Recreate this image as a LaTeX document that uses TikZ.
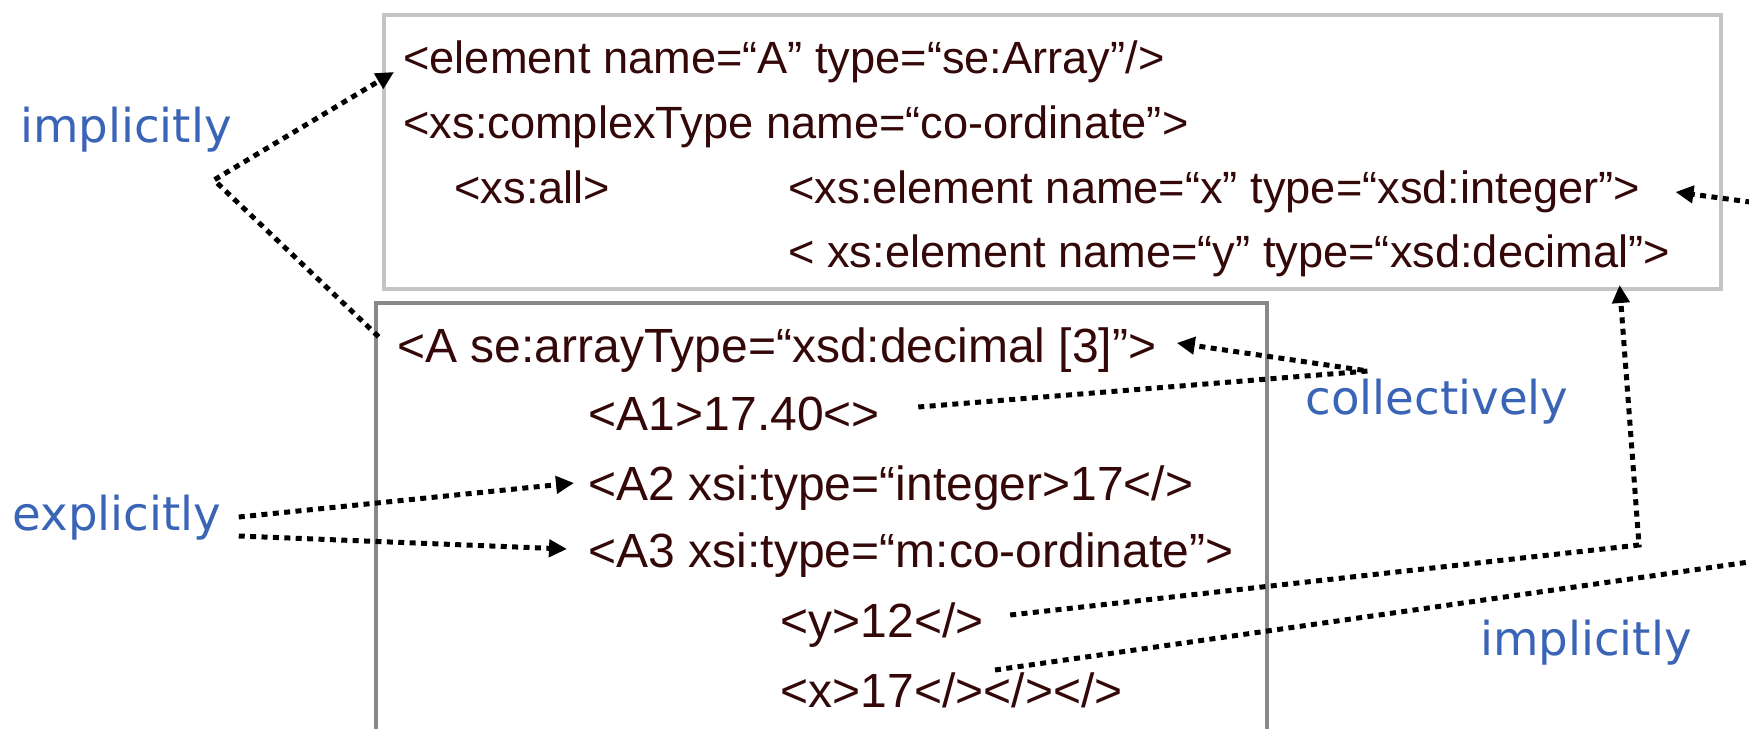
\documentclass[tikz,border=0pt]{standalone}
\usepackage{fontspec}
\setmainfont{Liberation Sans}
\newfontfamily\labelfont{DejaVu Sans}
\usetikzlibrary{arrows.meta,calc}
\definecolor{xmltext}{RGB}{52,8,8}
\definecolor{labelblue}{RGB}{58,100,182}
\definecolor{boxlight}{RGB}{196,196,196}
\definecolor{boxdark}{RGB}{136,136,136}

\begin{document}
\begin{tikzpicture}[x=0.5pt,y=-0.5pt,
  schema/.style={anchor=base west, inner sep=0pt, text=xmltext,
    font=\fontsize{22.6}{27}\selectfont},
  inst/.style={anchor=base west, inner sep=0pt, text=xmltext,
    font=\fontsize{24}{28}\selectfont},
  lbl/.style={inner sep=0pt, text=labelblue,
    font=\labelfont\fontsize{23.35}{28}\selectfont},
  link/.style={line width=2.5pt, black, dash pattern=on 3pt off 2.7pt},
  tip/.style={-{Triangle[length=9pt,width=8.5pt]}}
]
\useasboundingbox (0,0) rectangle (1749,728);
\clip (0,0) rectangle (1749,728);
\fill[white] (0,0) rectangle (1749,728);

% schema box and instance box
\draw[boxlight, line width=2pt] (384,15) rectangle (1721,289);
\draw[boxdark, line width=2pt] (376,303) rectangle (1267,790);

% schema text
\node[schema] (U1) at (403,73) {<element name=“A” type=“se:Array”/>};
\node[schema] (U2) at (403,138) {<xs:complexType name=“co-ordinate”>};
\node[schema] (U3a) at (454,203) {<xs:all>};
\node[schema] (U3b) at (788,203) {<xs:element name=“x” type=“xsd:integer”>};
\node[schema] (U4) at (788,267) {< xs:element name=“y” type=“xsd:decimal”>};

% instance text
\node[inst] (L1) at (397,362) {<A se:arrayType=“xsd:decimal [3]”>};
\node[inst] (L2) at (588.5,430) {<A1>17.40<>};
\node[inst] (L3) at (588.5,500) {<A2 xsi:type=“integer>17</>};
\node[inst] (L4) at (588.5,567) {<A3 xsi:type=“m:co-ordinate”>};
\node[inst] (L5) at (780.5,637) {<y>12</>};
\node[inst] (L6) at (780.5,707) {<x>17</></></>};

% labels
\node[lbl] (impl1) at (126,130) {implicitly};
\node[lbl] (coll) at (1437,402) {collectively};
\node[lbl] (expl) at (117,518) {explicitly};
\node[lbl] (impl2) at (1586,643) {implicitly};

% bends of the connectors
\coordinate (c1) at (214,180);
\coordinate (c2) at (1368,371);
\coordinate (c5) at (1639,545);
\coordinate (o1) at (1800,554.7);
\coordinate (o2) at (1800,208.7);

% connectors
\draw[link,tip] ($(L1.base west)+(-18.4,-25.3)$) -- (c1) -- ($(U1.base west)+(-9,-1)$);
\draw[link,tip] ($(L2.base east)+(38,-23)$) -- (c2) -- ($(L1.base east)+(20,-19)$);
\draw[link,tip] ($(expl.east)+(17,-1)$) -- ($(L3.base west)+(-14.5,-17)$);
\draw[link,tip] ($(expl.east)+(17,18)$) -- ($(L4.base west)+(-21.5,-18)$);
\draw[link,tip] ($(L5.base east)+(26,-22)$) -- (c5) -- ($(U4.base east)+(-51,18)$);
\draw[link,tip] ($(L6.base west)+(214.5,-37)$) -- (o1) -- (o2) -- ($(U3b.base east)+(35,-11)$);
\end{tikzpicture}
\end{document}
